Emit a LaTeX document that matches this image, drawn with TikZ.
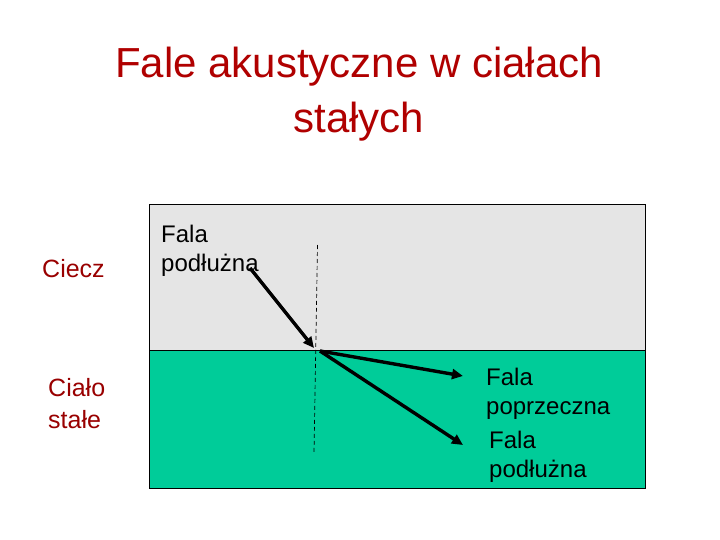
\documentclass[tikz,border=0pt]{standalone}
\usepackage{fontspec}
\setmainfont{Liberation Sans}
\usetikzlibrary{arrows.meta}
\definecolor{titlered}{HTML}{B00000}
\definecolor{labelred}{HTML}{990000}
\definecolor{liquid}{HTML}{E5E5E5}
\definecolor{solid}{HTML}{00CC99}
\tikzset{
  px/.style={x=1pt,y=-1pt},
  medium/.style={draw=black,line width=0.8pt},
  ray/.style={line width=3.4pt,-{Triangle[length=11pt,width=10pt]}},
  normal/.style={line width=0.7pt,dash pattern=on 4pt off 3pt},
  wavelabel/.style={anchor=base west,align=left,inner sep=0pt,font=\fontsize{24}{29}\selectfont,text=black},
  sidelabel/.style={anchor=base west,align=left,inner sep=0pt,font=\fontsize{25}{32}\selectfont,text=labelred},
  titletext/.style={anchor=base,align=center,inner sep=0pt,font=\fontsize{42}{55}\selectfont,text=titlered}
}
\begin{document}
\begin{tikzpicture}[px]
\useasboundingbox (0,0) rectangle (720,540);
\fill[white] (0,0) rectangle (720,540);
% media
\draw[medium,fill=liquid] (149.5,204.5) rectangle (645.5,350.5);
\draw[medium,fill=solid] (149.5,350.5) rectangle (645.5,488);
\draw[line width=1.8pt] (149.5,350.5) -- (645.5,350.5);
% title (anchor = baseline of last line)
\node[titletext] (title) at (359,133) {Fale akustyczne w ciałach\\stałych};
% side labels
\node[sidelabel] (ciecz) at (42,277) {Ciecz};
\node[sidelabel] (cialo) at (48,428) {Ciało\\stałe};
% wave labels
\node[wavelabel] (inc) at (161,271.5) {Fala\\podłużna};
\node[wavelabel] (trans) at (486,414.5) {Fala\\poprzeczna};
\node[wavelabel] (longl) at (489,477) {Fala\\podłużna};
% geometry points
\coordinate (ntop) at (317.5,245);
\coordinate (nbot) at (314,453);
\coordinate (itail) at (250,268);
\coordinate (itip) at (314,348);
\coordinate (o) at (320,351);
\coordinate (ttip) at (463,376);
\coordinate (ltip) at (463,445);
% normal
\draw[normal] (ntop) -- (nbot);
% rays
\draw[ray] (itail) -- (itip);
\draw[ray] (o) -- (ttip);
\draw[ray] (o) -- (ltip);
\end{tikzpicture}
\end{document}
